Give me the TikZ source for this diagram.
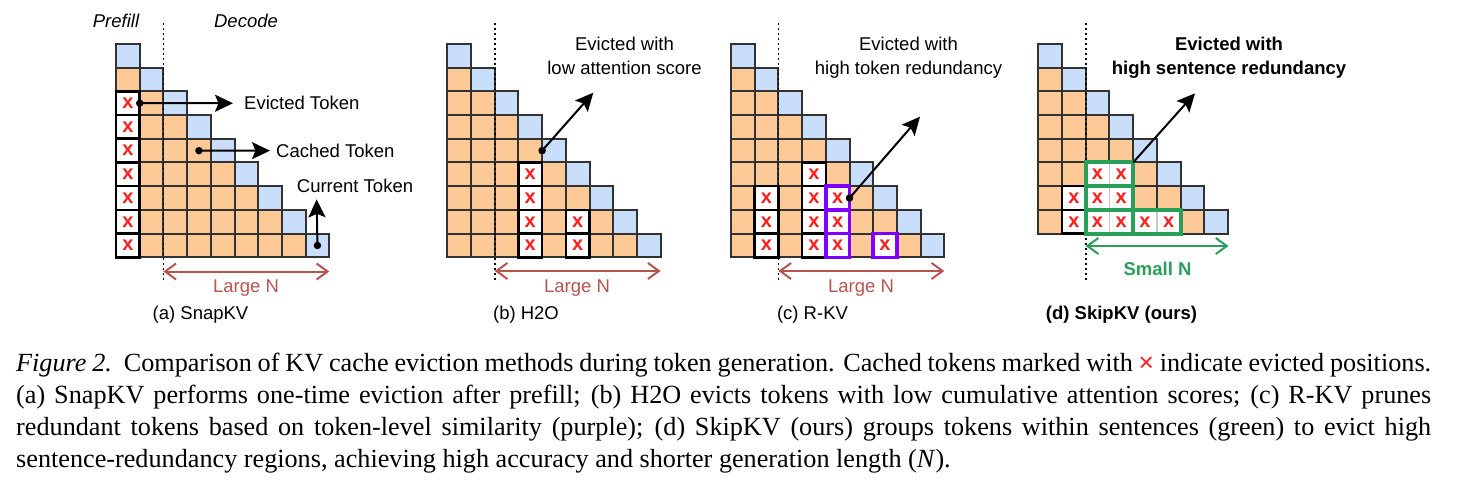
\documentclass[tikz,border=0pt]{standalone}
\usepackage{fontspec}
\setmainfont{Liberation Serif}
\setsansfont{Liberation Sans}
\usetikzlibrary{arrows.meta}
\definecolor{cacheorange}{RGB}{253,201,150}
\definecolor{curblue}{RGB}{200,222,250}
\definecolor{cellline}{RGB}{50,50,50}
\definecolor{xred}{RGB}{255,30,30}
\definecolor{spanred}{RGB}{184,84,80}
\definecolor{sentgreen}{RGB}{40,160,90}
\definecolor{tokpurple}{RGB}{127,0,255}
\begin{document}
\begin{tikzpicture}[x=1pt,y=-1pt,
    cached/.style ={rectangle, draw=cellline, line width=2pt, fill=cacheorange, minimum size=23.7pt, inner sep=0pt, outer sep=0pt},
    evicted/.style ={cached, fill=white, draw=black, line width=2.6pt, text=xred, font=\sffamily\bfseries\fontsize{20}{20}\selectfont},
    grouped/.style ={evicted, draw=black!22, line width=1.5pt},
    redundant/.style ={evicted, draw=tokpurple, line width=3.5pt},
    sentence/.style ={draw=sentgreen, line width=4pt},
    divider/.style ={line width=1.7pt, dash pattern=on 1.7pt off 3.3pt},
    pointer/.style ={line width=2pt, -{Stealth[length=18pt,width=17pt,inset=3.5pt]}},
    lenarrow/.style ={line width=2pt, {Straight Barb[length=11pt,width=16pt]}-{Straight Barb[length=11pt,width=16pt]}},
    anchordot/.style ={circle, fill=black, minimum size=7.5pt, inner sep=0pt},
    note/.style ={font=\sffamily\fontsize{18.5}{23.7}\selectfont, align=center},
    phase/.style ={note, font=\sffamily\itshape\fontsize{18.5}{23.7}\selectfont},
    strongnote/.style ={note, font=\sffamily\bfseries\fontsize{18.5}{23.7}\selectfont},
    captext/.style ={font=\fontsize{26.2}{32}\selectfont, inner sep=0pt, anchor=base west}]
   \useasboundingbox (0,0) rectangle (1468,484);

   \foreach \p/\px/\n in {a/116/9, b/447.3/9, c/731/9, d/1038.3/8} {
     \foreach \r in {1,...,\n} {
       \foreach \c in {1,...,\r} {
         \ifnum\c=\r \def\shade{curblue}\else \def\shade{cacheorange}\fi
         \node[cached, fill=\shade] (\p-\r-\c) at (\px+\c*23.7-11.85, 44+\r*23.7-11.85) {};
       }
     }
   }

   \foreach \cell in {a-3-1, a-4-1, a-5-1, a-6-1, a-7-1, a-8-1, a-9-1,
                      b-6-4, b-7-4, b-8-4, b-9-4, b-8-6, b-9-6,
                      c-7-2, c-8-2, c-9-2, c-6-4, c-7-4, c-8-4, c-9-4,
                      d-7-2, d-8-2}
     \node[evicted] (x-\cell) at (\cell) {x};
   \foreach \cell in {c-7-5, c-8-5, c-9-5, c-9-7}
     \node[redundant] (x-\cell) at (\cell) {x};
   \foreach \cell in {d-6-3, d-6-4, d-7-3, d-7-4, d-8-3, d-8-4, d-8-5, d-8-6}
     \node[grouped] (x-\cell) at (\cell) {x};

   \foreach \p/\dx/\dr/\dy in {a/163.4/329.3/271.5, b/494.7/660.6/271, c/778.4/944.3/271, d/1085.7/1228.5/246} {
     \coordinate (\p-dtop) at (\dx,23);
     \coordinate (\p-dbot) at (\dx,281);
     \coordinate (\p-nl) at (\dx,\dy);
     \coordinate (\p-nr) at (\dr,\dy);
     \draw[divider] (\p-dtop) -- (\p-dbot);
   }

   \draw[sentence] (d-6-3.north west) rectangle (d-6-4.south east);
   \draw[sentence] (d-7-3.north west) rectangle (d-7-4.south east);
   \draw[sentence] (d-8-3.north west) rectangle (d-8-4.south east);
   \draw[sentence] (d-8-5.north west) rectangle (d-8-6.south east);

   \node[phase] (prefill) at (116,20.7) {Prefill};
   \node[phase] (decode) at (246,20.7) {Decode};

   \node[note, anchor=west, inner sep=0pt] (a-evlbl) at (244,103.25) {Evicted Token};
   \node[note, anchor=west, inner sep=0pt] (a-calbl) at (276,150.65) {Cached Token};
   \node[note] (a-culbl) at (355,185.7) {Current Token};
   \node[anchordot] (a-evdot) at (a-3-1.east) {};
   \node[anchordot] (a-cadot) at (a-5-4.center) {};
   \node[anchordot] (a-cudot) at (a-9-9.center) {};
   \coordinate (a-cutip) at (316.65,199.3);
   \draw[pointer, shorten >=11pt] (a-evdot.center) -- (a-evlbl.west);
   \draw[pointer, shorten >=6pt] (a-cadot.center) -- (a-calbl.west);
   \draw[pointer] (a-cudot.center) -- (a-cutip);

   \node[note] (b-lbl) at (624.5,56) {Evicted with\\low attention score};
   \node[anchordot] (b-dot) at (b-5-4.east) {};
   \coordinate (b-tip) at (593.3,92.7);
   \draw[pointer] (b-dot.center) -- (b-tip);

   \node[note] (c-lbl) at (908.5,57.5) {Evicted with\\high token redundancy};
   \node[anchordot] (c-dot) at (c-7-5.east) {};
   \coordinate (c-tip) at (920,116.7);
   \draw[pointer] (c-dot.center) -- (c-tip);

   \node[strongnote] (d-lbl) at (1229,57.5) {Evicted with\\high sentence redundancy};
   \coordinate (d-tip) at (1195,93.3);
   \draw[pointer] (d-6-4.north east) -- (d-tip);

   \draw[lenarrow, draw=spanred] (a-nl) -- (a-nr);
   \draw[lenarrow, draw=spanred] (b-nl) -- (b-nr);
   \draw[lenarrow, draw=spanred] (c-nl) -- (c-nr);
   \draw[lenarrow, draw=sentgreen] (d-nl) -- (d-nr);
   \node[note, text=spanred] (a-len) at (246,288.5) {Large N};
   \node[note, text=spanred] (b-len) at (577,288.5) {Large N};
   \node[note, text=spanred] (c-len) at (861,288.5) {Large N};
   \node[strongnote, text=sentgreen] (d-len) at (1157.5,269) {Small N};

   \node[note] (a-name) at (200.5,315) {(a) SnapKV};
   \node[note] (b-name) at (526,315) {(b) H2O};
   \node[note] (c-name) at (812.5,315) {(c) R-KV};
   \node[strongnote] (d-name) at (1121.5,315) {(d) SkipKV (ours)};

   \node[captext] (cap1) at (16,371) {\makebox[1415pt][s]{\textit{Figure 2.}\hspace{0.45em}Comparison of KV cache eviction methods during token generation. Cached tokens marked with {\color{xred}\sffamily ×} indicate evicted positions.}};
   \node[captext] (cap2) at (16,403) {\makebox[1415pt][s]{(a) SnapKV performs one-time eviction after prefill; (b) H2O evicts tokens with low cumulative attention scores; (c) R-KV prunes}};
   \node[captext] (cap3) at (16,435) {\makebox[1415pt][s]{redundant tokens based on token-level similarity (purple); (d) SkipKV (ours) groups tokens within sentences (green) to evict high}};
   \node[captext] (cap4) at (16,467) {sentence-redundancy regions, achieving high accuracy and shorter generation length (\textit{N}).};
\end{tikzpicture}
\end{document}
